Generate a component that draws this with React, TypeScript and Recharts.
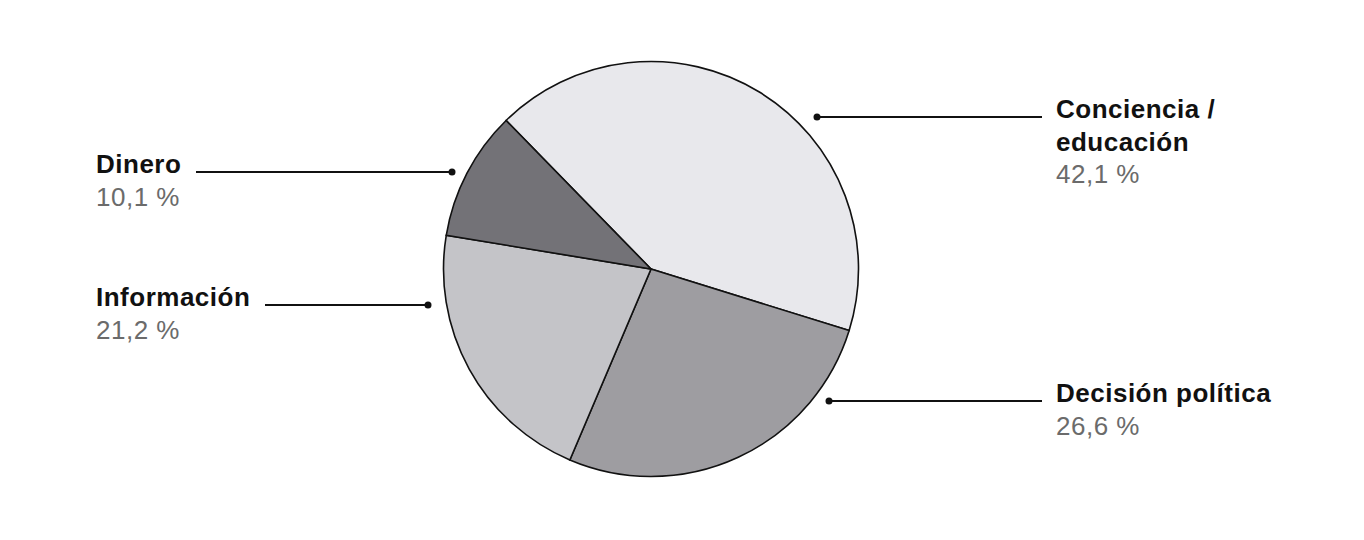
import { Cell, Pie, PieChart } from "recharts";

const categories = ["Conciencia / educación", "Decisión política", "Información", "Dinero"];
const titleLines = [["Conciencia /", "educación"], ["Decisión política"], ["Información"], ["Dinero"]];
const shares = [42.1, 26.6, 21.2, 10.1];
const colors = ["#e8e8ec", "#9e9da1", "#c4c4c8", "#737277"];

const data = categories.map((name, i) => ({ name, value: shares[i] }));

// label callouts, offsets from the pie centre
const callouts = [
  { dy: -152, dot: 166, edge: 391, text: 405 },
  { dy: 132, dot: 178, edge: 391, text: 405 },
  { dy: 36, dot: -223, edge: -386, text: -555 },
  { dy: -97, dot: -199, edge: -455, text: -555 },
];

const FONT = "'Liberation Sans', Arial, Helvetica, sans-serif";
const LINE_H = 32.5;

function fmt(v: number) {
  return v.toFixed(1).replace(".", ",") + " %";
}

function renderLabel(props: any) {
  const { cx, cy, index } = props;
  const c = callouts[index];
  const lines = titleLines[index];
  const y = cy + c.dy;
  const dotX = cx + c.dot;
  const edgeX = cx + c.edge;
  const tx = cx + c.text;
  return (
    <g key={`lbl-${index}`}>
      <line x1={dotX} y1={y} x2={edgeX} y2={y} stroke="#111" strokeWidth={2} />
      <circle cx={dotX} cy={y} r={3.5} fill="#111" />
      <text x={tx} y={y + 1} fontFamily={FONT} fontSize={26} letterSpacing={0.5}>
        {lines.map((t, i) => (
          <tspan key={t} x={tx} dy={i === 0 ? 0 : LINE_H} fontWeight="bold" fill="#111">
            {t}
          </tspan>
        ))}
        <tspan x={tx} dy={LINE_H} fill="#6b6b6b">
          {fmt(data[index].value)}
        </tspan>
      </text>
    </g>
  );
}

export default function App() {
  return (
    <div style={{ position: "absolute", left: 0, top: 0, background: "#fff" }}>
      <PieChart width={1364} height={540} margin={{ top: 0, right: 0, bottom: 0, left: 0 }}>
        <Pie
          data={data}
          dataKey="value"
          nameKey="name"
          cx={651}
          cy={269}
          outerRadius={207.5}
          startAngle={134.3}
          endAngle={134.3 - 360}
          stroke="#111"
          strokeWidth={1.6}
          label={renderLabel}
          labelLine={false}
          isAnimationActive={false}
        >
          {data.map((d, i) => (
            <Cell key={d.name} fill={colors[i]} />
          ))}
        </Pie>
      </PieChart>
    </div>
  );
}
